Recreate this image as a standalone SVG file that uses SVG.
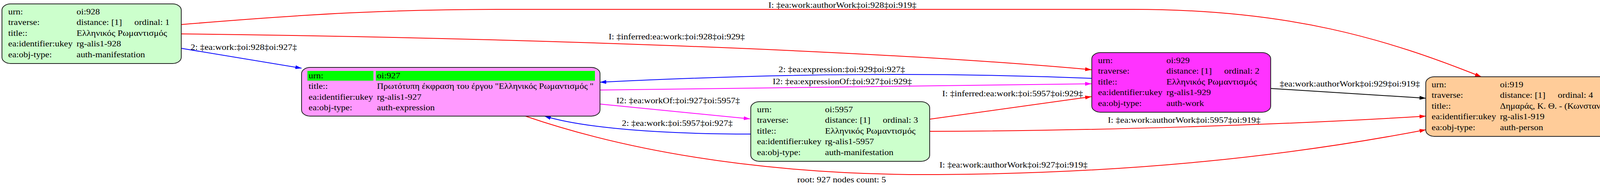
<svg xmlns="http://www.w3.org/2000/svg" width="4313" height="485" viewBox="0 0 4313 485">
<style>
.t{font-family:"Liberation Serif","DejaVu Serif",serif;font-size:20px;fill:#000}
.box{stroke:#222;stroke-width:2}
.e{fill:none;stroke-width:2}
.red{stroke:#ff0000}.blue{stroke:#0000ff}.mag{stroke:#ff00ff}.blk{stroke:#000}
</style>
<defs>
<marker id="ar" viewBox="0 0 16 10" markerUnits="userSpaceOnUse" markerWidth="16" markerHeight="10" refX="16" refY="5" orient="auto"><path d="M0,0L16,5L0,10z" fill="#ff0000"/></marker>
<marker id="ab" viewBox="0 0 16 10" markerUnits="userSpaceOnUse" markerWidth="16" markerHeight="10" refX="16" refY="5" orient="auto"><path d="M0,0L16,5L0,10z" fill="#0000ff"/></marker>
<marker id="am" viewBox="0 0 16 10" markerUnits="userSpaceOnUse" markerWidth="16" markerHeight="10" refX="16" refY="5" orient="auto"><path d="M0,0L16,5L0,10z" fill="#ff00ff"/></marker>
<marker id="ak" viewBox="0 0 16 10" markerUnits="userSpaceOnUse" markerWidth="16" markerHeight="10" refX="16" refY="5" orient="auto"><path d="M0,0L16,5L0,10z" fill="#000"/></marker>
</defs>
<rect width="4313" height="485" fill="#fff"/>
<g id="connectors">
<path class="e red" d="M464,63 C800,35 1000,24 1300,24 L2900,24 C3300,24 3550,100 3792,197" marker-end="url(#ar)"/>
<path class="e red" d="M464,87 C1200,95 2200,125 2794,179" marker-end="url(#ar)"/>
<path class="e blue" d="M464,124 L772,175" marker-end="url(#ab)"/>
<path class="e blue" d="M2794,201 C2400,185 2000,188 1536,211" marker-end="url(#ab)"/>
<path class="e mag" d="M1536,231 C2000,225 2400,217 2794,215" marker-end="url(#am)"/>
<path class="e mag" d="M1536,267 L1920,305" marker-end="url(#am)"/>
<path class="e blue" d="M1922,344 C1700,344 1500,330 1394,298" marker-end="url(#ab)"/>
<path class="e red" d="M2379,306 L2794,248" marker-end="url(#ar)"/>
<path class="e red" d="M2379,337 C2800,336 3300,320 3650,298" marker-end="url(#ar)"/>
<path class="e blk" d="M3253,227 L3650,252" marker-end="url(#ak)"/>
<path class="e red" d="M1345,298 C1700,420 2100,450 2400,448 C2900,445 3300,400 3650,333" marker-end="url(#ar)"/>
<text class="t" transform="translate(1967,20) scale(1.17,1)">I: ‡ea:work:authorWork‡oi:928‡oi:919‡</text>
<text class="t" transform="translate(1558,101) scale(1.17,1)">I: ‡inferred:ea:work:‡oi:928‡oi:929‡</text>
<text class="t" transform="translate(488,128) scale(1.17,1)">2: ‡ea:work:‡oi:928‡oi:927‡</text>
<text class="t" transform="translate(1993,185) scale(1.17,1)">2: ‡ea:expression:‡oi:929‡oi:927‡</text>
<text class="t" transform="translate(1978,216) scale(1.17,1)">I2: ‡ea:expressionOf:‡oi:927‡oi:929‡</text>
<text class="t" transform="translate(1578,265) scale(1.17,1)">I2: ‡ea:workOf:‡oi:927‡oi:5957‡</text>
<text class="t" transform="translate(1592,323) scale(1.17,1)">2: ‡ea:work:‡oi:5957‡oi:927‡</text>
<text class="t" transform="translate(2412,247) scale(1.17,1)">I: ‡inferred:ea:work:‡oi:5957‡oi:929‡</text>
<text class="t" transform="translate(2836,315) scale(1.17,1)">I: ‡ea:work:authorWork‡oi:5957‡oi:919‡</text>
<text class="t" transform="translate(3276,222) scale(1.17,1)">‡ea:work:authorWork‡oi:929‡oi:919‡</text>
<text class="t" transform="translate(2405,430) scale(1.17,1)">I: ‡ea:work:authorWork‡oi:927‡oi:919‡</text>
</g>
<g id="n928" transform="translate(5,10)">
<rect class="box" width="459" height="153" rx="22" ry="16" fill="#ccffcc"/>
<text class="t" transform="translate(16,26.5) scale(1.17,1)">urn:</text>
<text class="t" transform="translate(191,26.5) scale(1.17,1)">oi:928</text>
<text class="t" transform="translate(16,54) scale(1.17,1)">traverse:</text>
<text class="t" transform="translate(191,54) scale(1.17,1)">distance: [1]</text>
<text class="t" transform="translate(339,54) scale(1.17,1)">ordinal: 1</text>
<text class="t" transform="translate(16,81.5) scale(1.17,1)">title::</text>
<text class="t" transform="translate(191,81.5) scale(1.17,1)" textLength="198" lengthAdjust="spacingAndGlyphs">Ελληνικός Ρωμαντισμός</text>
<text class="t" transform="translate(16,109) scale(1.17,1)">ea:identifier:ukey</text>
<text class="t" transform="translate(191,109) scale(1.17,1)">rg-alis1-928</text>
<text class="t" transform="translate(16,136.5) scale(1.17,1)">ea:obj-type:</text>
<text class="t" transform="translate(191,136.5) scale(1.17,1)">auth-manifestation</text>
</g>
<g id="n927" transform="translate(772,173)">
<rect class="box" width="764" height="125" rx="22" ry="16" fill="#ff99ff"/>
<rect x="15" y="9" width="169" height="25" fill="#00ff00"/>
<rect x="190" y="9" width="561" height="25" fill="#00ff00"/>
<text class="t" transform="translate(18,28) scale(1.17,1)">urn:</text>
<text class="t" transform="translate(193,28) scale(1.17,1)">oi:927</text>
<text class="t" transform="translate(18,55) scale(1.17,1)">title::</text>
<text class="t" transform="translate(193,55) scale(1.17,1)" textLength="474" lengthAdjust="spacingAndGlyphs">Πρωτότυπη έκφραση του έργου "Ελληνικός Ρωμαντισμός "</text>
<text class="t" transform="translate(18,82.5) scale(1.17,1)">ea:identifier:ukey</text>
<text class="t" transform="translate(193,82.5) scale(1.17,1)">rg-alis1-927</text>
<text class="t" transform="translate(18,110) scale(1.17,1)">ea:obj-type:</text>
<text class="t" transform="translate(193,110) scale(1.17,1)">auth-expression</text>
</g>
<g id="n929" transform="translate(2795,135)">
<rect class="box" width="458" height="153" rx="22" ry="16" fill="#ff33ff"/>
<text class="t" transform="translate(16,26.5) scale(1.17,1)">urn:</text>
<text class="t" transform="translate(191,26.5) scale(1.17,1)">oi:929</text>
<text class="t" transform="translate(16,54) scale(1.17,1)">traverse:</text>
<text class="t" transform="translate(191,54) scale(1.17,1)">distance: [1]</text>
<text class="t" transform="translate(339,54) scale(1.17,1)">ordinal: 2</text>
<text class="t" transform="translate(16,81.5) scale(1.17,1)">title::</text>
<text class="t" transform="translate(191,81.5) scale(1.17,1)" textLength="198" lengthAdjust="spacingAndGlyphs">Ελληνικός Ρωμαντισμός</text>
<text class="t" transform="translate(16,109) scale(1.17,1)">ea:identifier:ukey</text>
<text class="t" transform="translate(191,109) scale(1.17,1)">rg-alis1-929</text>
<text class="t" transform="translate(16,136.5) scale(1.17,1)">ea:obj-type:</text>
<text class="t" transform="translate(191,136.5) scale(1.17,1)">auth-work</text>
</g>
<g id="n5957" transform="translate(1922,261)">
<rect class="box" width="458" height="153" rx="22" ry="16" fill="#ccffcc"/>
<text class="t" transform="translate(16,26.5) scale(1.17,1)">urn:</text>
<text class="t" transform="translate(190,26.5) scale(1.17,1)">oi:5957</text>
<text class="t" transform="translate(16,54) scale(1.17,1)">traverse:</text>
<text class="t" transform="translate(190,54) scale(1.17,1)">distance: [1]</text>
<text class="t" transform="translate(338,54) scale(1.17,1)">ordinal: 3</text>
<text class="t" transform="translate(16,81.5) scale(1.17,1)">title::</text>
<text class="t" transform="translate(190,81.5) scale(1.17,1)" textLength="198" lengthAdjust="spacingAndGlyphs">Ελληνικός Ρωμαντισμός</text>
<text class="t" transform="translate(16,109) scale(1.17,1)">ea:identifier:ukey</text>
<text class="t" transform="translate(190,109) scale(1.17,1)">rg-alis1-5957</text>
<text class="t" transform="translate(16,136.5) scale(1.17,1)">ea:obj-type:</text>
<text class="t" transform="translate(190,136.5) scale(1.17,1)">auth-manifestation</text>
</g>
<g id="n919" transform="translate(3650,197)">
<rect class="box" width="657" height="153" rx="22" ry="16" fill="#ffcc99"/>
<text class="t" transform="translate(15,26.5) scale(1.17,1)">urn:</text>
<text class="t" transform="translate(190,26.5) scale(1.17,1)">oi:919</text>
<text class="t" transform="translate(15,54) scale(1.17,1)">traverse:</text>
<text class="t" transform="translate(190,54) scale(1.17,1)">distance: [1]</text>
<text class="t" transform="translate(338,54) scale(1.17,1)">ordinal: 4</text>
<text class="t" transform="translate(15,81.5) scale(1.17,1)">title::</text>
<text class="t" transform="translate(190,81.5) scale(1.17,1)" textLength="385" lengthAdjust="spacingAndGlyphs">Δημαράς, Κ. Θ. - (Κωνσταντίνος Θ.), 1904-1992</text>
<text class="t" transform="translate(15,109) scale(1.17,1)">ea:identifier:ukey</text>
<text class="t" transform="translate(190,109) scale(1.17,1)">rg-alis1-919</text>
<text class="t" transform="translate(15,136.5) scale(1.17,1)">ea:obj-type:</text>
<text class="t" transform="translate(190,136.5) scale(1.17,1)">auth-person</text>
</g>
<text id="graph-label" class="t" transform="translate(2041,468) scale(1.17,1)">root: 927 nodes count: 5</text>
</svg>
